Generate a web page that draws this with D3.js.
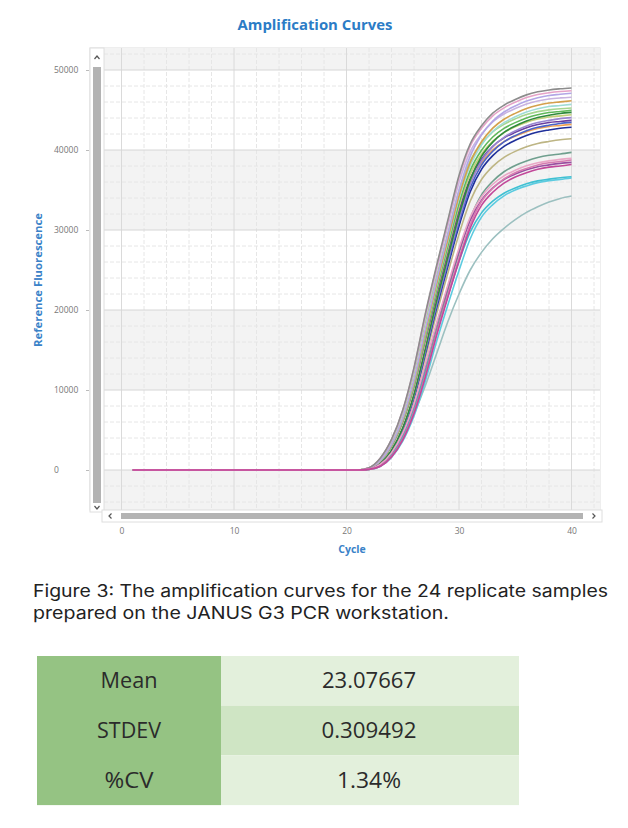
<!DOCTYPE html>
<html><head><meta charset="utf-8">
<script src="https://cdn.jsdelivr.net/npm/d3@7"></script>
<style>body{margin:0;background:#fff}</style>
</head><body><svg id="c" width="628" height="828"></svg>
<script>
// ---------- DATA ----------
const cycles = [1,2,3,4,5,6,7,8,9,10,11,12,13,14,15,16,17,18,19,20,21,22,23,24,25,26,27,28,29,30,31,32,33,34,35,36,37,38,39,40];
const s01 = [0,0,0,0,0,0,0,0,0,0,0,0,0,0,0,0,0,0,0,0,0,290,1480,3820,7500,12800,19480,25500,31180,36820,40780,43020,44600,45600,46320,46890,47270,47510,47650,47750];
const s02 = [0,0,0,0,0,0,0,0,0,0,0,0,0,0,0,0,0,0,0,0,0,280,1470,3790,7440,12700,19340,25310,30950,36550,40480,42710,44270,45270,45980,46550,46930,47160,47310,47400];
const s03 = [0,0,0,0,0,0,0,0,0,0,0,0,0,0,0,0,0,0,0,0,0,240,1180,3200,6500,11300,17570,23640,29340,34950,39230,41870,43610,44750,45500,46110,46530,46820,46960,47100];
const s04 = [0,0,0,0,0,0,0,0,0,0,0,0,0,0,0,0,0,0,0,0,0,280,1440,3730,7320,12490,19010,24880,30430,35930,39800,41990,43520,44500,45200,45760,46130,46370,46510,46600];
const s05 = [0,0,0,0,0,0,0,0,0,0,0,0,0,0,0,0,0,0,0,0,0,230,1150,3140,6370,11080,17210,23170,28750,34240,38440,41030,42730,43840,44580,45180,45600,45870,46010,46150];
const s06 = [0,0,0,0,0,0,0,0,0,0,0,0,0,0,0,0,0,0,0,0,0,230,1140,3110,6310,10970,17050,22940,28470,33910,38070,40630,42320,43420,44150,44740,45150,45430,45560,45700];
const s07 = [0,0,0,0,0,0,0,0,0,0,0,0,0,0,0,0,0,0,0,0,0,270,1400,3620,7100,12130,18460,24160,29550,34890,38640,40770,42260,43210,43890,44440,44800,45020,45160,45250];
const s08 = [0,0,0,0,0,0,0,0,0,0,0,0,0,0,0,0,0,0,0,0,0,220,1120,3060,6200,10790,16770,22560,28000,33350,37440,39960,41620,42700,43420,44010,44410,44680,44820,44950];
const s09 = [0,0,0,0,0,0,0,0,0,0,0,0,0,0,0,0,0,0,0,0,0,130,800,2460,5270,9480,15110,21050,26510,31830,36300,39200,40990,42200,43000,43630,44070,44340,44570,44700];
const s10 = [0,0,0,0,0,0,0,0,0,0,0,0,0,0,0,0,0,0,0,0,0,220,1110,3020,6130,10660,16560,22290,27660,32940,36990,39470,41110,42180,42890,43470,43870,44130,44270,44400];
const s11 = [0,0,0,0,0,0,0,0,0,0,0,0,0,0,0,0,0,0,0,0,0,130,790,2420,5200,9340,14890,20750,26120,31360,35770,38630,40390,41580,42380,42990,43430,43700,43920,44050];
const s12 = [0,0,0,0,0,0,0,0,0,0,0,0,0,0,0,0,0,0,0,0,0,220,1090,2970,6030,10490,16300,21940,27230,32430,36400,38850,40470,41520,42210,42780,43180,43440,43570,43700];
const s13 = [0,0,0,0,0,0,0,0,0,0,0,0,0,0,0,0,0,0,0,0,0,130,780,2390,5130,9210,14690,20470,25770,30940,35280,38110,39840,41020,41800,42410,42840,43100,43320,43450];
const s14 = [0,0,0,0,0,0,0,0,0,0,0,0,0,0,0,0,0,0,0,0,0,220,1080,2940,5960,10370,16110,21690,26910,32050,35990,38400,40000,41040,41730,42290,42680,42940,43070,43200];
const s15 = [0,0,0,0,0,0,0,0,0,0,0,0,0,0,0,0,0,0,0,0,0,130,770,2360,5060,9080,14480,20180,25410,30510,34790,37580,39290,40450,41220,41820,42250,42510,42720,42850];
const s16 = [0,0,0,0,0,0,0,0,0,0,0,0,0,0,0,0,0,0,0,0,0,120,750,2280,4890,8780,13990,19500,24550,29480,33620,36310,37960,39080,39830,40410,40820,41070,41280,41400];
const s17 = [0,0,0,0,0,0,0,0,0,0,0,0,0,0,0,0,0,0,0,0,0,80,480,1710,3930,7340,12030,17430,22390,27120,31440,34380,36090,37280,38070,38630,39060,39340,39500,39700];
const s18 = [0,0,0,0,0,0,0,0,0,0,0,0,0,0,0,0,0,0,0,0,0,120,700,2140,4600,8260,13170,18350,23100,27730,31630,34160,35720,36770,37470,38020,38400,38640,38830,38950];
const s19 = [0,0,0,0,0,0,0,0,0,0,0,0,0,0,0,0,0,0,0,0,0,80,470,1670,3840,7170,11740,17010,21860,26470,30690,33560,35220,36390,37160,37700,38130,38400,38560,38750];
const s20 = [0,0,0,0,0,0,0,0,0,0,0,0,0,0,0,0,0,0,0,0,0,120,690,2110,4540,8150,13000,18110,22800,27380,31220,33720,35260,36300,36990,37530,37910,38140,38330,38450];
const s21 = [0,0,0,0,0,0,0,0,0,0,0,0,0,0,0,0,0,0,0,0,0,80,460,1640,3780,7070,11570,16770,21540,26090,30250,33080,34720,35870,36630,37170,37590,37860,38010,38200];
const s22 = [0,0,0,0,0,0,0,0,0,0,0,0,0,0,0,0,0,0,0,0,0,110,660,2020,4320,7770,12390,17260,21730,26090,29760,32140,33610,34600,35260,35770,36140,36360,36540,36650];
const s23 = [0,0,0,0,0,0,0,0,0,0,0,0,0,0,0,0,0,0,0,0,0,70,440,1570,3610,6750,11060,16020,20590,24930,28910,31610,33180,34270,35000,35510,35920,36170,36320,36500];
const s24 = [0,0,0,0,0,0,0,0,0,0,0,0,0,0,0,0,0,0,0,0,0,150,700,2000,4000,7000,10500,14500,18500,22000,25000,27200,28900,30200,31300,32200,32900,33500,33950,34250];
// drawn bottom to top (the magenta/pink ones are last, as in the reference)
const seriesValues = [s24,s23,s22,s17,s16,s15,s14,s13,s12,s11,s10,s09,s08,s07,s06,s05,s04,s03,s02,s01,s20,s18,s19,s21];
const seriesColors = ["#9cc0c0","#5ccbe0","#3fc0d2","#6f9f8e","#bdb584","#1f2f9a","#f0a050","#4a62c8","#6a3fa0","#9a86d0","#c3cf7a","#2f8a3c","#5fb85a","#a6d68f","#9fdcd6","#d4a04c","#c9b3e0","#b3a6e6","#e6a3c8","#8c8c8c","#9a4fa0","#eaa6c6","#d77bb0","#c2489a"];
const yTicks = [0,10000,20000,30000,40000,50000];
const xTicks = [0,10,20,30,40];
const statLabels = ["Mean","STDEV","%CV"];
const statValues = ["23.07667","0.309492","1.34%"];
const captionLines = ["Figure 3: The amplification curves for the 24 replicate samples","prepared on the JANUS G3 PCR workstation."];

// ---------- LAYOUT ----------
const svg = d3.select("#c");
const P = {left:104, right:600, top:48, bottom:510};
const x = d3.scaleLinear().domain([0,40]).range([121.5,571.5]);
const y = d3.scaleLinear().domain([0,50000]).range([470,70]);
const yTopVal = y.invert(P.top), yBotVal = y.invert(P.bottom);
const xLeftVal = x.invert(P.left), xRightVal = x.invert(P.right);

// title
svg.append("text").attr("x",315).attr("y",30).attr("text-anchor","middle")
  .attr("font-family","Open Sans").attr("font-weight",700).attr("font-size",14.5)
  .attr("fill","#2b7cc6").attr("textLength",155).attr("lengthAdjust","spacingAndGlyphs")
  .text("Amplification Curves");

// plot frame
svg.append("rect").attr("x",90).attr("y",P.top).attr("width",P.right-90).attr("height",P.bottom-P.top)
  .attr("fill","#fbfbfb").attr("stroke","#dedede");
const g = svg.append("g");
g.append("rect").attr("x",P.left).attr("y",P.top).attr("width",P.right-P.left).attr("height",P.bottom-P.top).attr("fill","#ffffff");
const bands = [[50000,yTopVal],[30000,40000],[10000,20000],[yBotVal,0]];
g.selectAll("rect.band").data(bands).join("rect").attr("class","band")
  .attr("x",P.left).attr("width",P.right-P.left)
  .attr("y",d=>y(d[1])).attr("height",d=>y(d[0])-y(d[1])).attr("fill","#f3f3f3");
const xMinor = d3.range(-2,44,2).filter(v=>v%10!==0 && v>=xLeftVal && v<=xRightVal);
g.selectAll("line.xm").data(xMinor).join("line").attr("class","xm")
  .attr("x1",d=>x(d)).attr("x2",d=>x(d)).attr("y1",P.top).attr("y2",P.bottom)
  .attr("stroke","#e6e6e6").attr("stroke-dasharray","4,2");
const yMinor = d3.range(-4000,52001,2000).filter(v=>v%10000!==0);
g.selectAll("line.ym").data(yMinor).join("line").attr("class","ym")
  .attr("y1",d=>y(d)).attr("y2",d=>y(d)).attr("x1",P.left).attr("x2",P.right)
  .attr("stroke","#e6e6e6").attr("stroke-dasharray","4,2");
g.selectAll("line.xM").data(xTicks).join("line").attr("class","xM")
  .attr("x1",d=>x(d)).attr("x2",d=>x(d)).attr("y1",P.top).attr("y2",P.bottom)
  .attr("stroke","#dadada");
g.selectAll("line.yM").data(yTicks).join("line").attr("class","yM")
  .attr("y1",d=>y(d)).attr("y2",d=>y(d)).attr("x1",P.left).attr("x2",P.right)
  .attr("stroke","#d6d6d6");

// curves
const line = d3.line().x((d,i)=>x(cycles[i])).y(d=>y(d)).curve(d3.curveMonotoneX);
g.selectAll("path.curve").data(seriesValues).join("path").attr("class","curve")
  .attr("d",line).attr("fill","none").attr("stroke",(d,i)=>seriesColors[i])
  .attr("stroke-width",1.6);

// vertical scrollbar
svg.append("rect").attr("x",90).attr("y",P.top).attr("width",P.left-90).attr("height",P.bottom-P.top+2)
  .attr("fill","#ffffff").attr("stroke","#dedede");
svg.append("rect").attr("x",93).attr("y",67).attr("width",8).attr("height",436).attr("fill","#b3b3b3");
svg.append("path").attr("d","M94.5,59 L97,56 L99.5,59").attr("fill","none").attr("stroke","#555").attr("stroke-width",1.2);
svg.append("path").attr("d","M94.5,506 L97,509 L99.5,506").attr("fill","none").attr("stroke","#555").attr("stroke-width",1.2);
// horizontal scrollbar
svg.append("rect").attr("x",102).attr("y",510).attr("width",500).attr("height",12)
  .attr("fill","#ffffff").attr("stroke","#dedede");
svg.append("rect").attr("x",121).attr("y",513).attr("width",462).attr("height",6).attr("fill","#b3b3b3");
svg.append("path").attr("d","M111.5,513.5 L109,516 L111.5,518.5").attr("fill","none").attr("stroke","#555").attr("stroke-width",1.2);
svg.append("path").attr("d","M592.5,513.5 L595,516 L592.5,518.5").attr("fill","none").attr("stroke","#555").attr("stroke-width",1.2);

// y axis
const yAxis = svg.append("g").attr("transform","translate(89,0)")
  .call(d3.axisLeft(y).tickValues(yTicks).tickSize(3).tickFormat(d3.format("d")));
yAxis.select(".domain").remove();
yAxis.selectAll("line").attr("stroke","#bbb");
yAxis.selectAll("text").attr("x",-35).attr("text-anchor","start").attr("fill","#777")
  .attr("font-family","Open Sans").attr("font-size",8.5);
// x axis
const xAxis = svg.append("g").attr("transform","translate(0,524)")
  .call(d3.axisBottom(x).tickValues(xTicks).tickSize(0));
xAxis.select(".domain").remove();
xAxis.selectAll("text").attr("y",4).attr("fill","#777").attr("font-family","Open Sans").attr("font-size",8.5);

// axis titles
svg.append("text").attr("transform","translate(42,280) rotate(-90)").attr("text-anchor","middle")
  .attr("font-family","Open Sans").attr("font-weight",700).attr("font-size",10.5).attr("fill","#3a82c8")
  .attr("textLength",134).attr("lengthAdjust","spacingAndGlyphs").text("Reference Fluorescence");
svg.append("text").attr("x",352).attr("y",553).attr("text-anchor","middle")
  .attr("font-family","Open Sans").attr("font-weight",700).attr("font-size",10.5).attr("fill","#3a82c8")
  .text("Cycle");

// caption
const capLens = [575,416];
svg.selectAll("text.cap").data(captionLines).join("text").attr("class","cap")
  .attr("x",33).attr("y",(d,i)=>597+i*22)
  .attr("font-family","Inter").attr("font-size",17).attr("fill","#222")
  .attr("textLength",(d,i)=>capLens[i]).attr("lengthAdjust","spacingAndGlyphs")
  .text(d=>d);

// table
const T = {left:37, split:221, right:519, top:656, rowH:49.7};
const rowFill = ["#e3f0dc","#cfe5c4","#e3f0dc"];
const labelW = [57,64,49], valueW = [94,95,64];
const tg = svg.append("g");
tg.append("rect").attr("x",T.left).attr("y",T.top).attr("width",T.split-T.left).attr("height",T.rowH*3).attr("fill","#95c383");
tg.selectAll("rect.r").data(statValues).join("rect").attr("class","r")
  .attr("x",T.split).attr("y",(d,i)=>T.top+i*T.rowH).attr("width",T.right-T.split).attr("height",T.rowH)
  .attr("fill",(d,i)=>rowFill[i]);
tg.selectAll("text.l").data(statLabels).join("text").attr("class","l")
  .attr("x",(T.left+T.split)/2).attr("y",(d,i)=>T.top+i*T.rowH+T.rowH/2+7.5).attr("text-anchor","middle")
  .attr("font-family","Open Sans").attr("font-size",21).attr("fill","#2b2b2b")
  .attr("textLength",(d,i)=>labelW[i]).attr("lengthAdjust","spacingAndGlyphs").text(d=>d);
tg.selectAll("text.v").data(statValues).join("text").attr("class","v")
  .attr("x",369).attr("y",(d,i)=>T.top+i*T.rowH+T.rowH/2+7.5).attr("text-anchor","middle")
  .attr("font-family","Open Sans").attr("font-size",21).attr("fill","#2b2b2b")
  .attr("textLength",(d,i)=>valueW[i]).attr("lengthAdjust","spacingAndGlyphs").text(d=>d);
</script></body></html>
